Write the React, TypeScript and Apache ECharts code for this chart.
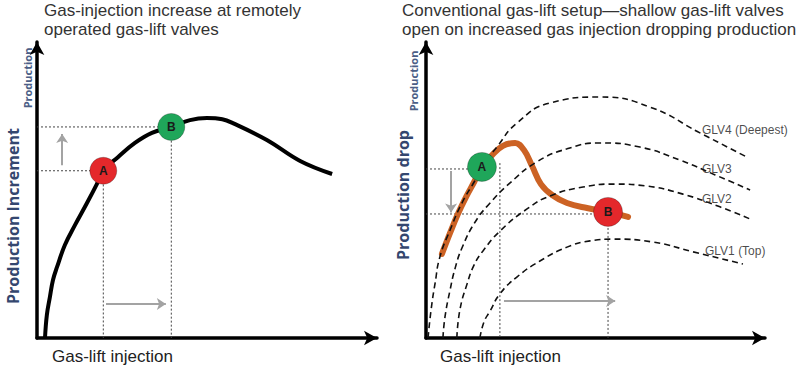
import React, { useEffect, useRef } from "react";
import * as echarts from "echarts";

// ---------- Data (conceptual units: injection 0-100, production 0-100) ----------
const leftTitle = ["Gas-injection increase at remotely", "operated gas-lift valves"];
const rightTitle = [
  "Conventional gas-lift setup\u2014shallow gas-lift valves",
  "open on increased gas injection dropping production",
];
const xAxisName = "Gas-lift injection";
const leftYName = "Production Increment";
const rightYName = "Production drop";
const smallYName = "Production";

// Left panel performance curve
const leftCurve: [number, number][] = [
  [2.35, 0], [2.9, 7.8], [3.8, 13.9], [4.7, 19.6], [5.9, 24.0], [8.2, 31.4],
  [11.2, 38.2], [14.7, 45.6], [17.6, 52.0], [19.5, 56.5], [23.8, 61.1],
  [28.8, 65.9], [33.8, 69.3], [39.5, 71.3], [45, 73.6], [50.0, 74.3],
  [54.5, 73.9], [57.6, 72.6], [67.6, 66.9], [77.4, 59.8], [86.8, 55.4],
];
const leftPoints = [
  { name: "A", value: [19.5, 56.5], color: "#e4282b" },
  { name: "B", value: [39.5, 71.3], color: "#1fa65a" },
];
const leftArrows: [number, number][][] = [
  [[7.4, 58.4], [7.4, 68.9]],
  [[20.3, 11.5], [37.9, 11.5]],
];

// Right panel valve curves
const glv4: [number, number][] = [
  [0.6, 0], [1.5, 9.5], [2.7, 18.6], [4.1, 27.4], [7.1, 36.5], [10.6, 45.6],
  [14.2, 52.7], [17.4, 59.1], [20.9, 64.5], [26.8, 72.6], [36.6, 79.4],
  [51.3, 81.4], [66.1, 78.0], [80.8, 69.3], [94.7, 61.1],
];
const glv3: [number, number][] = [
  [5.0, 0], [5.6, 7.1], [7.1, 16.2], [8.6, 23.6], [10.6, 30.4], [14.5, 39.2],
  [18.9, 45.6], [24.8, 52.4], [32.7, 59.5], [41.6, 63.9], [51.3, 65.9],
  [63.1, 64.5], [74.9, 60.1], [85.3, 55.1], [95.6, 50.0],
];
const glv2: [number, number][] = [
  [9.1, 0], [10.0, 9.5], [12.1, 18.2], [14.2, 24.7], [16.8, 29.4], [21.8, 36.1],
  [29.8, 43.6], [36.6, 48.0], [46.3, 51.0], [55.8, 52.0], [64.6, 51.4],
  [75.8, 48.6], [86.7, 44.3], [96.2, 39.9],
];
const glv1: [number, number][] = [
  [15.9, 0], [17.1, 5.4], [18.9, 9.1], [21.8, 14.9], [26.8, 20.6], [33.6, 26.0],
  [41.6, 30.7], [48.4, 32.8], [55.2, 33.4], [67.0, 32.4], [78.8, 29.1], [93.5, 25.0],
];
const glvLabels = [
  { name: "GLV4 (Deepest)", value: [81.4, 70.3] },
  { name: "GLV3", value: [81.4, 57.1] },
  { name: "GLV2", value: [81.4, 46.9] },
  { name: "GLV1 (Top)", value: [82.3, 29.4] },
];
const actualCurve: [number, number][] = [
  [4.7, 28.4], [7.1, 35.5], [9.4, 41.9], [11.8, 47.6], [14.2, 52.7], [16.5, 57.8],
  [19.5, 61.8], [22.7, 64.9], [26.3, 65.9], [28.9, 63.5], [31.3, 58.1],
  [33.9, 52.0], [37.2, 48.3], [41.6, 45.6], [47.5, 43.9], [53.7, 42.6], [59.6, 40.9],
];
const rightPoints = [
  { name: "A", value: [16.5, 57.8], color: "#1fa65a" },
  { name: "B", value: [53.7, 42.6], color: "#e4282b" },
];
const rightArrows: [number, number][][] = [
  [[7.4, 56.4], [7.4, 42.4]],
  [[23.0, 12.5], [55.8, 12.5]],
];
// guide lines (dotted)
const leftGuides: [number, number][][] = [
  [[0, 71.3], [39.5, 71.3], [39.5, 0]],
  [[0, 56.5], [19.5, 56.5], [19.5, 0]],
];
const rightGuides: [number, number][][] = [
  [[0, 57.1], [16.5, 57.1]],
  [[21.8, 59.1], [21.8, 0]],
  [[0, 41.9], [53.7, 41.9], [53.7, 0]],
];

export default function App() {
  const ref = useRef<HTMLDivElement>(null);
  useEffect(() => {
    if (!ref.current) return;
    const chart = echarts.init(ref.current, undefined, { renderer: "svg" });

    const axisLine = {
      show: true,
      symbol: ["none", "arrow"],
      symbolSize: [11, 13],
      lineStyle: { color: "#000", width: 3.5 },
    };
    const mkAxis = (gi: number) => ({
      type: "value", gridIndex: gi, min: 0, max: 100,
      axisLine, axisTick: { show: false }, axisLabel: { show: false },
      splitLine: { show: false },
    });

    const guideSeries = (data: [number, number][][], gi: number) =>
      data.map((d) => ({
        type: "line", xAxisIndex: gi, yAxisIndex: gi, data: d, symbol: "none",
        silent: true, z: 1,
        lineStyle: { color: "#444", width: 1, type: [2, 2] },
      }));
    const arrowSeries = (data: [number, number][][], gi: number) => ({
      type: "lines", coordinateSystem: "cartesian2d", xAxisIndex: gi, yAxisIndex: gi,
      symbol: ["none", "arrow"], symbolSize: 9, z: 2,
      lineStyle: { color: "#a3a3a3", width: 2, opacity: 1 },
      data: data.map((c) => ({ coords: c })),
    });
    const pointSeries = (pts: any[], gi: number, size: number) => ({
      type: "scatter", xAxisIndex: gi, yAxisIndex: gi, symbolSize: size, z: 5,
      data: pts.map((p) => ({
        name: p.name, value: p.value,
        itemStyle: { color: p.color, opacity: 1, borderColor: "rgba(0,0,0,0.25)", borderWidth: 1 },
      })),
      label: {
        show: true, position: "inside", formatter: "{b}",
        color: "#1a1a1a", fontSize: 12, fontWeight: "bold", fontFamily: "Liberation Sans",
      },
    });
    const dashed = (d: [number, number][]) => ({
      type: "line", xAxisIndex: 1, yAxisIndex: 1, data: d, symbol: "none",
      smooth: 0.5, z: 3,
      lineStyle: { color: "#111", width: 1.6, type: [6, 4] },
    });

    const text = (x: number, y: number, t: string, style: any, extra: any = {}) => ({
      type: "text", x, y, ...extra,
      style: { text: t, fill: "#333", font: "17px 'Liberation Sans'", ...style },
    });

    chart.setOption({
      animation: false,
      backgroundColor: "#fff",
      grid: [
        { left: 37, top: 42, width: 340, height: 296 },
        { left: 426, top: 42, width: 339, height: 296 },
      ],
      xAxis: [mkAxis(0), mkAxis(1)],
      yAxis: [mkAxis(0), mkAxis(1)],
      series: [
        ...guideSeries(leftGuides, 0),
        ...guideSeries(rightGuides, 1),
        arrowSeries(leftArrows, 0),
        arrowSeries(rightArrows, 1),
        {
          type: "line", xAxisIndex: 0, yAxisIndex: 0, data: leftCurve, symbol: "none",
          smooth: 0.4, z: 3, lineStyle: { color: "#000", width: 4 },
        },
        dashed(glv4), dashed(glv3), dashed(glv2), dashed(glv1),
        {
          type: "line", xAxisIndex: 1, yAxisIndex: 1, data: actualCurve, symbol: "none",
          smooth: 0.4, z: 2, lineStyle: { color: "#cc6224", width: 6, cap: "round" },
        },
        {
          type: "scatter", xAxisIndex: 1, yAxisIndex: 1, symbolSize: 0, z: 4,
          data: glvLabels,
          label: {
            show: true, position: "right", distance: 0, formatter: "{b}",
            color: "#1a1a1a", fontSize: 12, fontFamily: "Liberation Sans Narrow, Liberation Sans",
          },
        },
        pointSeries(leftPoints, 0, 27),
        pointSeries(rightPoints, 1, 29),
      ],
      graphic: [
        text(44, 2, leftTitle[0], {}),
        text(44, 21, leftTitle[1], {}),
        text(402, 2, rightTitle[0], {}),
        text(402, 21, rightTitle[1], {}),
        text(52, 348, xAxisName, { fill: "#222" }),
        text(440, 348, xAxisName, { fill: "#222" }),
        text(27, 78, smallYName, {
          font: "bold 11px 'Open Sans'", fill: "#4b5e86", align: "center", verticalAlign: "middle",
        }, { rotation: Math.PI / 2 }),
        text(413, 81, smallYName, {
          font: "bold 11px 'Open Sans'", fill: "#4b5e86", align: "center", verticalAlign: "middle",
        }, { rotation: Math.PI / 2 }),
        text(13, 216, leftYName, {
          font: "bold 16px 'Open Sans'", fill: "#34476f", align: "center", verticalAlign: "middle",
        }, { rotation: Math.PI / 2 }),
        text(403, 195, rightYName, {
          font: "bold 16px 'Open Sans'", fill: "#34476f", align: "center", verticalAlign: "middle",
        }, { rotation: Math.PI / 2 }),
      ],
    });
    return () => chart.dispose();
  }, []);
  return (
    <div
      ref={ref}
      style={{ position: "absolute", left: 0, top: 0, width: 800, height: 368 }}
    />
  );
}
